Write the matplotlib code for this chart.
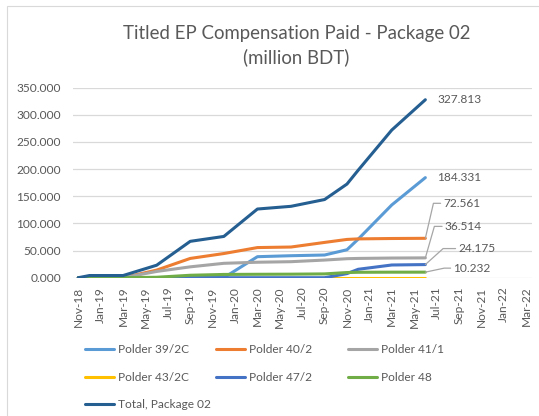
import numpy as np
import pandas as pd
import matplotlib
matplotlib.use("Agg")
import matplotlib.pyplot as plt
from matplotlib.patches import Rectangle

# ---------------- data ----------------
dates = ['2018-11', '2018-12', '2019-03', '2019-06', '2019-09', '2019-12', '2020-03',
         '2020-06', '2020-09', '2020-11', '2020-12', '2021-03', '2021-06']
polder_39_2c = [0, 0, 0, 0, 0, 0, 38.7, 40.5, 41.8, 51.5, 71.0, 134.0, 184.331]
polder_40_2 = [0, 0, 0, 14.0, 35.5, 44.5, 55.5, 56.5, 65.0, 70.5, 71.5, 72.2, 72.561]
polder_41_1 = [0, 0, 0, 11.5, 20.0, 26.5, 28.5, 29.5, 32.5, 35.0, 35.5, 36.2, 36.514]
polder_43_2c = [np.nan] * 8 + [0, 0, 0, 0, 0]
polder_47_2 = [0, 0, 0, 0, 0, 0, 0, 0, 0, 7.5, 15.5, 23.4, 24.175]
polder_48 = [0, 0, 0, 0.8, 4.5, 6.0, 6.3, 6.5, 7.0, 9.5, 10.0, 10.2, 10.232]
total_pkg02 = [0, 4.0, 4.0, 23.0, 67.0, 76.0, 126.5, 131.5, 144.0, 172.5, 198.0, 272.0, 327.813]

series_names = ['Polder 39/2C', 'Polder 40/2', 'Polder 41/1', 'Polder 43/2C',
                'Polder 47/2', 'Polder 48', 'Total, Package 02']
end_labels = ['184.331', '72.561', '36.514', None, '24.175', '10.232', '327.813']
axis_start, axis_end = '2018-11', '2022-03'
y_ticks = [0, 50, 100, 150, 200, 250, 300, 350]

# ---------------- style ----------------
colors = ['#5B9BD5', '#ED7D31', '#A5A5A5', '#FFC000', '#4472C4', '#70AD47', '#255E91']
FONT = ['Lato', 'DejaVu Sans']
plt.rcParams['font.family'] = FONT
TXT = '#595959'

W, H = 539, 416
fig = plt.figure(figsize=(W / 100, H / 100), dpi=100)

# chart-area border (cropped on right/bottom like reference)
fig.patches.append(Rectangle((7 / W, -0.05), 1.2, 1 - 6 / H + 0.05, transform=fig.transFigure,
                             fill=False, edgecolor='#D9D9D9', linewidth=0.8))

ax = fig.add_axes([72.7 / W, 1 - 277.7 / H, (531.7 - 72.7) / W, (277.7 - 87.7) / H])

p0 = pd.Period(axis_start, 'M')
def month_idx(s):
    return (pd.Period(s, 'M') - p0).n

x = np.array([month_idx(d) for d in dates])
n_end = month_idx(axis_end)

all_series = [polder_39_2c, polder_40_2, polder_41_1, polder_43_2c, polder_47_2, polder_48, total_pkg02]
lines = []
for vals, name, c in zip(all_series, series_names, colors):
    ln, = ax.plot(x, vals, color=c, lw=2.2, label=name, solid_capstyle='round', solid_joinstyle='round')
    lines.append(ln)

ax.set_xlim(-0.5, n_end + 0.5)
ax.set_ylim(0, 350)
ax.set_yticks(y_ticks)
ax.set_yticklabels([f'{v:.3f}' for v in y_ticks])
ticks = list(range(0, n_end + 1, 2))
ax.set_xticks(ticks)
ax.set_xticklabels([(p0 + t).strftime('%b-%y') for t in ticks], rotation=90)
ax.tick_params(axis='both', length=0, colors=TXT, labelsize=8.6)
ax.tick_params(axis='y', pad=8.5)
ax.tick_params(axis='x', pad=6.5)
for s in ax.spines.values():
    s.set_visible(False)
ax.grid(axis='y', color='#D9D9D9', lw=0.9)
ax.set_axisbelow(True)
ax.patch.set_alpha(0)

# data labels at the last point
offsets = {  # (dx px, dy px, leader angle or None)
    '327.813': (12, 0, None),
    '184.331': (12, 0, None),
    '72.561': (18, 35, 77),
    '36.514': (19.5, 31.5, 74),
    '24.175': (33, 16, 42),
    '10.232': (28, 4, 12),
}
for vals, lab in zip(all_series, end_labels):
    if lab is None:
        continue
    dx, dy, ang = offsets[lab]
    kw = {}
    if ang is not None:
        kw['arrowprops'] = dict(arrowstyle='-', color='#A6A6A6', lw=0.9, shrinkA=0, shrinkB=0,
                                connectionstyle=f'angle,angleA=180,angleB={ang},rad=0')
    ax.annotate(lab, xy=(x[-1], vals[-1]), xytext=(dx, dy), textcoords='offset pixels',
                ha='left', va='center', fontsize=8.6, color=TXT, annotation_clip=False, **kw)

# title
fig.text(296.5 / W, 1 - 33 / H, 'Titled EP Compensation Paid - Package 02', ha='center', va='center',
         fontsize=13.4, color=TXT)
fig.text(296.5 / W, 1 - 57 / H, '(million BDT)', ha='center', va='center', fontsize=13.4, color=TXT)

# legend: three columns placed like Excel's equal-width columns
cols = [[0, 3, 6], [1, 4], [2, 5]]
col_x = [84.5, 215.5, 347.6]
for ci, idxs in zip(col_x, cols):
    leg = fig.legend([lines[i] for i in idxs], [series_names[i] for i in idxs],
                     loc='upper left', bbox_to_anchor=(ci / W, 1 - 344 / H),
                     frameon=False, fontsize=8.6, handlelength=2.45, handletextpad=0.35,
                     borderpad=0, borderaxespad=0, labelspacing=1.4, labelcolor=TXT)

fig.savefig('out.png', dpi=100)
